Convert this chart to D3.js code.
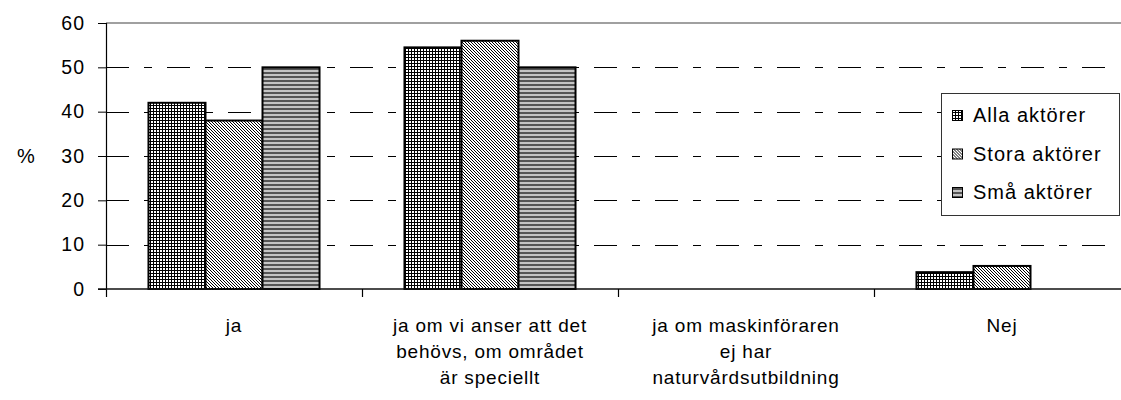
<!DOCTYPE html>
<html>
<head>
<meta charset="utf-8">
<script src="https://cdn.jsdelivr.net/npm/d3@7"></script>
<style>
  html, body { margin: 0; padding: 0; background: #fff; }
  svg { display: block; font-family: "Liberation Sans", Arial, sans-serif; }
</style>
</head>
<body>
<svg id="chart" width="1121" height="400"></svg>
<script>
// Answer categories (each entry is the wrapped label lines)
const categoryLines = [
  ["ja"],
  ["ja om vi anser att det", "behövs, om området", "är speciellt"],
  ["ja om maskinföraren", "ej har", "naturvårdsutbildning"],
  ["Nej"]
];
const categories = categoryLines.map(l => l.join(" "));

// Respondent groups
const series = ["Alla aktörer", "Stora aktörer", "Små aktörer"];

// Share of respondents (%)
const allaValues  = [42, 54.5, 0, 3.8];
const storaValues = [38, 56,   0, 5.2];
const smaValues   = [50, 50,   0, 0];

const yTickValues = [0, 10, 20, 30, 40, 50, 60];
const yLabel = "%";

const valuesBySeries = [allaValues, storaValues, smaValues];
const patternIds = ["pat-grid", "pat-diag", "pat-horiz"];

const svg = d3.select("#chart");

// ---- fill patterns ----
const defs = svg.append("defs");

const grid = defs.append("pattern").attr("id", "pat-grid")
  .attr("patternUnits", "userSpaceOnUse").attr("width", 3).attr("height", 3);
grid.append("rect").attr("width", 3).attr("height", 3).attr("fill", "#fff");
grid.append("path").attr("d", "M0,0.5H3M0.5,0V3")
  .attr("stroke", "#000").attr("stroke-width", 1).attr("shape-rendering", "crispEdges");

const diag = defs.append("pattern").attr("id", "pat-diag")
  .attr("patternUnits", "userSpaceOnUse").attr("width", 3).attr("height", 3);
diag.append("rect").attr("width", 3).attr("height", 3).attr("fill", "#fff");
diag.append("path").attr("d", "M-1,-1L4,4M-1,2L1,4M2,-1L4,1")
  .attr("stroke", "#000").attr("stroke-width", 1);

const horiz = defs.append("pattern").attr("id", "pat-horiz")
  .attr("patternUnits", "userSpaceOnUse").attr("width", 4).attr("height", 4);
horiz.append("rect").attr("width", 4).attr("height", 4).attr("fill", "#c4c4c4");
horiz.append("rect").attr("y", 0).attr("width", 4).attr("height", 2).attr("fill", "#555");

// ---- scales ----
const plotLeft = 106, plotRight = 1130, plotTop = 23, plotBottom = 289;

const y = d3.scaleLinear().domain([0, 60]).range([plotBottom, plotTop]);
const x0 = d3.scaleBand().domain(categories).range([plotLeft, plotRight]).padding(0);
const x1 = d3.scaleBand().domain(series).range([0, x0.bandwidth()])
  .paddingInner(0).paddingOuter(0.745);

// ---- gridlines ----
svg.append("g").selectAll("line")
  .data(yTickValues.filter(v => v > 0 && v < 60))
  .join("line")
  .attr("x1", plotLeft).attr("x2", 1114)
  .attr("y1", d => Math.round(y(d)) + 0.5).attr("y2", d => Math.round(y(d)) + 0.5)
  .attr("stroke", "#000").attr("stroke-width", 1)
  .attr("stroke-dasharray", "23,15,8,15");

// top border of the plot area
svg.append("line")
  .attr("x1", plotLeft).attr("x2", plotRight)
  .attr("y1", y(60)).attr("y2", y(60))
  .attr("stroke", "#808080").attr("stroke-width", 1.5);

// ---- bars ----
const barData = [];
categories.forEach((c, i) => {
  series.forEach((s, j) => {
    barData.push({ cat: c, series: s, value: valuesBySeries[j][i], pat: patternIds[j] });
  });
});

svg.append("g").selectAll("rect")
  .data(barData.filter(d => d.value > 0))
  .join("rect")
  .attr("x", d => x0(d.cat) + x1(d.series))
  .attr("y", d => y(d.value))
  .attr("width", x1.bandwidth())
  .attr("height", d => y(0) - y(d.value))
  .attr("fill", d => `url(#${d.pat})`)
  .attr("stroke", "#000").attr("stroke-width", 2);

// ---- axes ----
const yAxis = d3.axisLeft(y).tickValues(yTickValues).tickSize(8).tickPadding(13);
const yG = svg.append("g").attr("transform", `translate(${plotLeft},0)`).call(yAxis);
yG.select(".domain").remove();
yG.selectAll(".tick line").attr("stroke", "#000");
yG.selectAll(".tick text")
  .attr("font-size", 19.5).attr("fill", "#000").attr("letter-spacing", 1)
  .attr("font-family", "Liberation Sans, Arial, sans-serif");

// vertical axis line (extends below the baseline)
svg.append("line")
  .attr("x1", plotLeft + 0.5).attr("x2", plotLeft + 0.5)
  .attr("y1", plotTop).attr("y2", plotBottom + 8)
  .attr("stroke", "#000").attr("stroke-width", 1.2);

// horizontal axis line
svg.append("line")
  .attr("x1", plotLeft - 8).attr("x2", plotRight)
  .attr("y1", plotBottom).attr("y2", plotBottom)
  .attr("stroke", "#111").attr("stroke-width", 1.5);

// category boundary ticks
const boundaries = categories.slice(1).map(c => x0(c));
svg.append("g").selectAll("line")
  .data(boundaries)
  .join("line")
  .attr("x1", d => d + 0.5).attr("x2", d => d + 0.5)
  .attr("y1", plotBottom).attr("y2", plotBottom + 8)
  .attr("stroke", "#000").attr("stroke-width", 1.2);

// category labels
const catG = svg.append("g")
  .attr("font-size", 19).attr("letter-spacing", 0.8)
  .attr("text-anchor", "middle").attr("fill", "#000");
categoryLines.forEach((lines, i) => {
  const cx = x0(categories[i]) + x0.bandwidth() / 2;
  const t = catG.append("text").attr("x", cx).attr("y", 332);
  lines.forEach((ln, k) => {
    t.append("tspan")
      .attr("x", cx)
      .attr("dy", k === 0 ? 0 : 26)
      .text(ln);
  });
});

// y axis title
svg.append("text")
  .attr("x", 26).attr("y", y(30))
  .attr("dy", "0.35em").attr("text-anchor", "middle")
  .attr("font-size", 20).attr("fill", "#000")
  .text(yLabel);

// ---- legend ----
const legend = svg.append("g");
legend.append("rect")
  .attr("x", 941.5).attr("y", 93.5).attr("width", 178).attr("height", 122)
  .attr("fill", "#fff").attr("stroke", "#333").attr("stroke-width", 1);

const legY = d3.scalePoint().domain(series).range([115, 192]);
const item = legend.selectAll("g.item")
  .data(series.map((s, j) => ({ s, pat: patternIds[j] })))
  .join("g").attr("class", "item")
  .attr("transform", d => `translate(952,${legY(d.s)})`);
item.append("rect")
  .attr("x", 0.5).attr("y", -4.5).attr("width", 10).attr("height", 10)
  .attr("fill", d => `url(#${d.pat})`)
  .attr("stroke", "#000").attr("stroke-width", 1);
item.append("text")
  .attr("x", 21).attr("dy", "0.35em")
  .attr("font-size", 20).attr("letter-spacing", 1).attr("fill", "#000")
  .text(d => d.s);
</script>
</body>
</html>
